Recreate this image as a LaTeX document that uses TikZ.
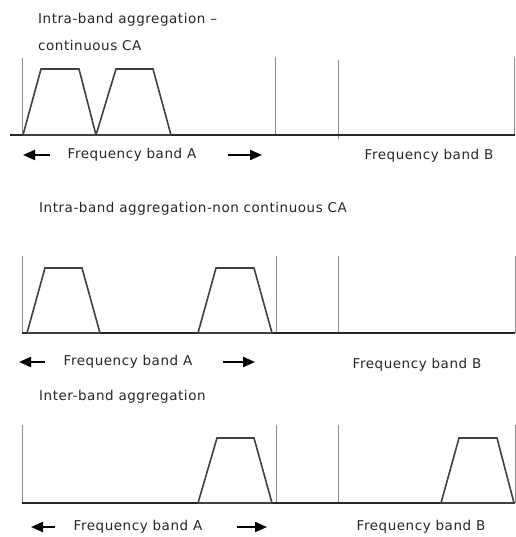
\documentclass[tikz,border=0pt]{standalone}
\usepackage{fontspec}
\setmainfont{DejaVu Sans}
\newfontfamily\lblfont[LetterSpace=4]{DejaVu Sans}
\usetikzlibrary{arrows.meta}
\begin{document}
\begin{tikzpicture}[x=1pt,y=-1pt,
  lbl/.style={font=\lblfont\fontsize{13.5}{15}\selectfont, text=black!85, inner sep=0pt},
  ttl/.style={lbl, anchor=west},
  axis/.style={draw=black!85, line width=1.4pt},
  mark line/.style={draw=black!45, line width=0.9pt},
  carrier/.style={draw=black!75, line width=1.6pt, line join=miter},
  bandarrow/.style={draw=black, line width=2pt, -{Triangle[length=12pt,width=10pt]}}
]
\useasboundingbox (0,0) rectangle (515,537);

% ---------- continuous CA ----------
\node[ttl] (t1a) at (38,20) {Intra-band aggregation –};
\node[ttl] (t1b) at (38,45) {continuous CA};
\draw[mark line] (22,58) -- (22,135);
\draw[mark line] (275,57) -- (275,135);
\draw[mark line] (338,60) -- (338,139);
\draw[mark line] (514,57) -- (514,135);
\draw[axis] (10,135) -- (515,135);
\draw[carrier] (23,135) -- (41,69) -- (79,69) -- (96,135);
\draw[carrier] (96,135) -- (116,69) -- (153,69) -- (171,135);
\draw[carrier] (23,135) -- (171,135);
\node[lbl] (a1) at (132,155) {Frequency band A};
\node[lbl] (b1) at (429,156) {Frequency band B};
\coordinate (a1l0) at (50,155); \coordinate (a1l1) at (23,155);
\coordinate (a1r0) at (228,155); \coordinate (a1r1) at (262,155);
\draw[bandarrow] (a1l0) -- (a1l1);
\draw[bandarrow] (a1r0) -- (a1r1);

% ---------- non-continuous CA ----------
\node[ttl] (t2) at (39,209) {Intra-band aggregation-non continuous CA};
\draw[mark line] (22,256) -- (22,333);
\draw[mark line] (276,256) -- (276,333);
\draw[mark line] (338,256) -- (338,333);
\draw[mark line] (515,256) -- (515,333);
\draw[axis] (22,333) -- (515,333);
\draw[carrier] (27,333) -- (45,268) -- (82,268) -- (100,333) -- cycle;
\draw[carrier] (198,333) -- (216,268) -- (254,268) -- (272,333) -- cycle;
\node[lbl] (a2) at (128,362) {Frequency band A};
\node[lbl] (b2) at (417,365) {Frequency band B};
\coordinate (a2l0) at (45,362); \coordinate (a2l1) at (19,362);
\coordinate (a2r0) at (223,362); \coordinate (a2r1) at (255,362);
\draw[bandarrow] (a2l0) -- (a2l1);
\draw[bandarrow] (a2r0) -- (a2r1);

% ---------- inter-band CA ----------
\node[ttl] (t3) at (39,397) {Inter-band aggregation};
\draw[mark line] (22,425) -- (22,503);
\draw[mark line] (276,425) -- (276,503);
\draw[mark line] (338,425) -- (338,503);
\draw[mark line] (515,425) -- (515,503);
\draw[axis] (22,503) -- (515,503);
\draw[carrier] (198,503) -- (217,438) -- (254,438) -- (272,503) -- cycle;
\draw[carrier] (441,503) -- (459,438) -- (497,438) -- (514,503) -- cycle;
\node[lbl] (a3) at (138,527) {Frequency band A};
\node[lbl] (b3) at (421,527) {Frequency band B};
\coordinate (a3l0) at (55,527); \coordinate (a3l1) at (31,527);
\coordinate (a3r0) at (237,527); \coordinate (a3r1) at (267,527);
\draw[bandarrow] (a3l0) -- (a3l1);
\draw[bandarrow] (a3r0) -- (a3r1);
\end{tikzpicture}
\end{document}
